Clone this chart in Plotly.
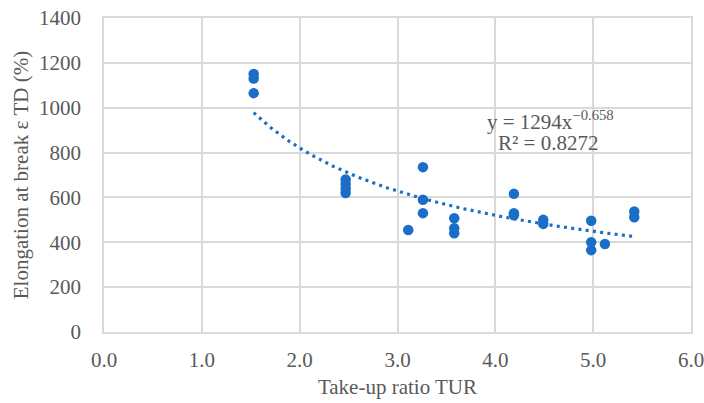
import numpy as np
import plotly.graph_objects as go

# Data
tur = [1.53, 1.53, 1.53,
       2.47, 2.47, 2.47, 2.47,
       3.11,
       3.26, 3.26, 3.26,
       3.58, 3.58, 3.58,
       4.19, 4.19, 4.19,
       4.49, 4.49,
       4.98, 4.98, 4.98,
       5.12,
       5.42, 5.42]
elongation = [1150, 1130, 1065,
              680, 660, 640, 620,
              455,
              735, 590, 530,
              507, 463, 440,
              616, 530, 520,
              500, 482,
              496, 400, 365,
              392,
              537, 512]

# Power trendline shown on the chart: y = a * x^b
fit_a = 1294
fit_b = -0.658
fit_r2 = 0.8272

x_ticks = [0, 1, 2, 3, 4, 5, 6]
x_tick_labels = ["0.0", "1.0", "2.0", "3.0", "4.0", "5.0", "6.0"]
y_ticks = [0, 200, 400, 600, 800, 1000, 1200, 1400]

blue = "#1B6EC8"
grey_text = "#595959"
grid = "#D9D9D9"
font_family = "Liberation Serif, Times New Roman, serif"
fs = 21

x_fit = np.linspace(min(tur), max(tur), 200)
y_fit = fit_a * x_fit ** fit_b

fig = go.Figure()
fig.add_trace(go.Scatter(
    x=x_fit, y=y_fit, mode="lines",
    line=dict(color=blue, width=3.2, dash="3px,4.3px"),
    hoverinfo="skip", showlegend=False))
fig.add_trace(go.Scatter(
    x=tur, y=elongation, mode="markers",
    marker=dict(color=blue, size=10.5, line=dict(width=0)),
    showlegend=False))

fig.add_annotation(
    x=3.89, y=942, xref="x", yref="y", xanchor="left", yanchor="middle",
    text=f"y = {fit_a}x<sup>\u2212{abs(fit_b):.3f}</sup>", showarrow=False,
    font=dict(family=font_family, size=fs, color=grey_text))
fig.add_annotation(
    x=4.01, y=844, xref="x", yref="y", xanchor="left", yanchor="middle",
    text=f"R\u00b2 = {fit_r2}", showarrow=False,
    font=dict(family=font_family, size=fs, color=grey_text))

fig.update_layout(
    width=704, height=403,
    margin=dict(l=104, r=13, t=18, b=71),
    paper_bgcolor="white", plot_bgcolor="white",
    font=dict(family=font_family, size=fs, color=grey_text),
    xaxis=dict(
        range=[0, 6], tickvals=x_ticks, ticktext=x_tick_labels,
        showgrid=True, gridcolor=grid, gridwidth=1.6,
        showline=True, linecolor=grid, linewidth=1.6, mirror=True,
        zeroline=False, ticks="", ticklabelstandoff=8, automargin=False,
        ticklabeloverflow="allow",
        title=dict(text="Take-up ratio TUR", standoff=8,
                   font=dict(family=font_family, size=fs, color=grey_text)),
    ),
    yaxis=dict(
        range=[0, 1400], tickvals=y_ticks,
        showgrid=True, gridcolor=grid, gridwidth=1.6,
        showline=True, linecolor=grid, linewidth=1.6, mirror=True,
        zeroline=False, ticks="", ticklabelstandoff=17, automargin=False,
        ticklabeloverflow="allow",
        title=dict(text="Elongation at break \u03b5 TD (%)", standoff=5,
                   font=dict(family=font_family, size=fs, color=grey_text)),
    ),
)

# Remove the default 8 px page margin so the figure fills the window exactly.
fig.write_html("out.html", config={"displayModeBar": False},
               post_script="document.body.style.margin='0';")
